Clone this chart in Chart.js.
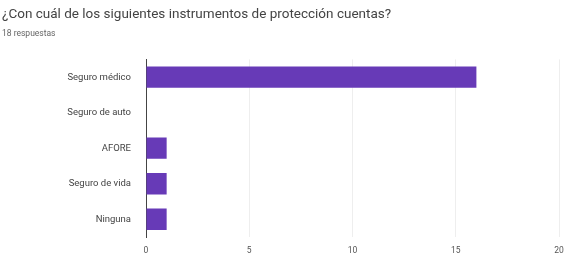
<!DOCTYPE html>
<html>
<head>
<meta charset="utf-8">
<script src="https://cdn.jsdelivr.net/npm/chart.js@4"></script>
<style>
    html, body { margin: 0; padding: 0; background: #fff; }
    #wrap { width: 564px; height: 254px; position: relative; }
</style>
</head>
<body>
<div id="wrap"><canvas id="chart"></canvas></div>
<script>
const categories = ['Seguro médico', 'Seguro de auto', 'AFORE', 'Seguro de vida', 'Ninguna'];
const answers = [16, 0, 1, 1, 1];
const xTicks = [0, 5, 10, 15, 20];

const ctx = document.getElementById('chart').getContext('2d');
new Chart(ctx, {
    type: 'bar',
    data: {
        labels: categories,
        datasets: [{
            data: answers,
            backgroundColor: '#673ab7',
            borderWidth: 0,
            barPercentage: 0.6,
            categoryPercentage: 1
        }]
    },
    options: {
        indexAxis: 'y',
        responsive: true,
        maintainAspectRatio: false,
        animation: false,
        plugins: {
            legend: { display: false },
            tooltip: { enabled: false },
            title: {
                display: true,
                text: '¿Con cuál de los siguientes instrumentos de protección cuentas?',
                align: 'start',
                color: '#444',
                font: { family: 'Roboto', size: 13.5, weight: 'normal' },
                padding: { top: 0, bottom: 6 }
            },
            subtitle: {
                display: true,
                text: '18 respuestas',
                align: 'start',
                color: '#666',
                font: { family: 'Roboto', size: 8.5 },
                padding: { bottom: 20 }
            }
        },
        scales: {
            x: {
                min: 0,
                max: 20,
                afterBuildTicks: axis => { axis.ticks = xTicks.map(v => ({ value: v })); },
                afterFit: axis => {
                    axis.height = 17;
                    axis.paddingRight = 5;
                    axis.paddingLeft = 0;
                },
                grid: { color: '#eeeeee', drawTicks: false },
                border: { display: false },
                ticks: { color: '#555', font: { family: 'Roboto', size: 8.5 }, padding: 9 }
            },
            y: {
                grid: { display: false },
                border: { display: true, color: '#444' },
                afterFit: axis => { axis.width = 146 - 2; },
                ticks: { color: '#444', font: { family: 'Roboto', size: 9.5 }, padding: 7 }
            }
        },
        layout: { padding: { left: 2, right: 0, top: 7, bottom: 0 } }
    }
});
</script>
</body>
</html>
